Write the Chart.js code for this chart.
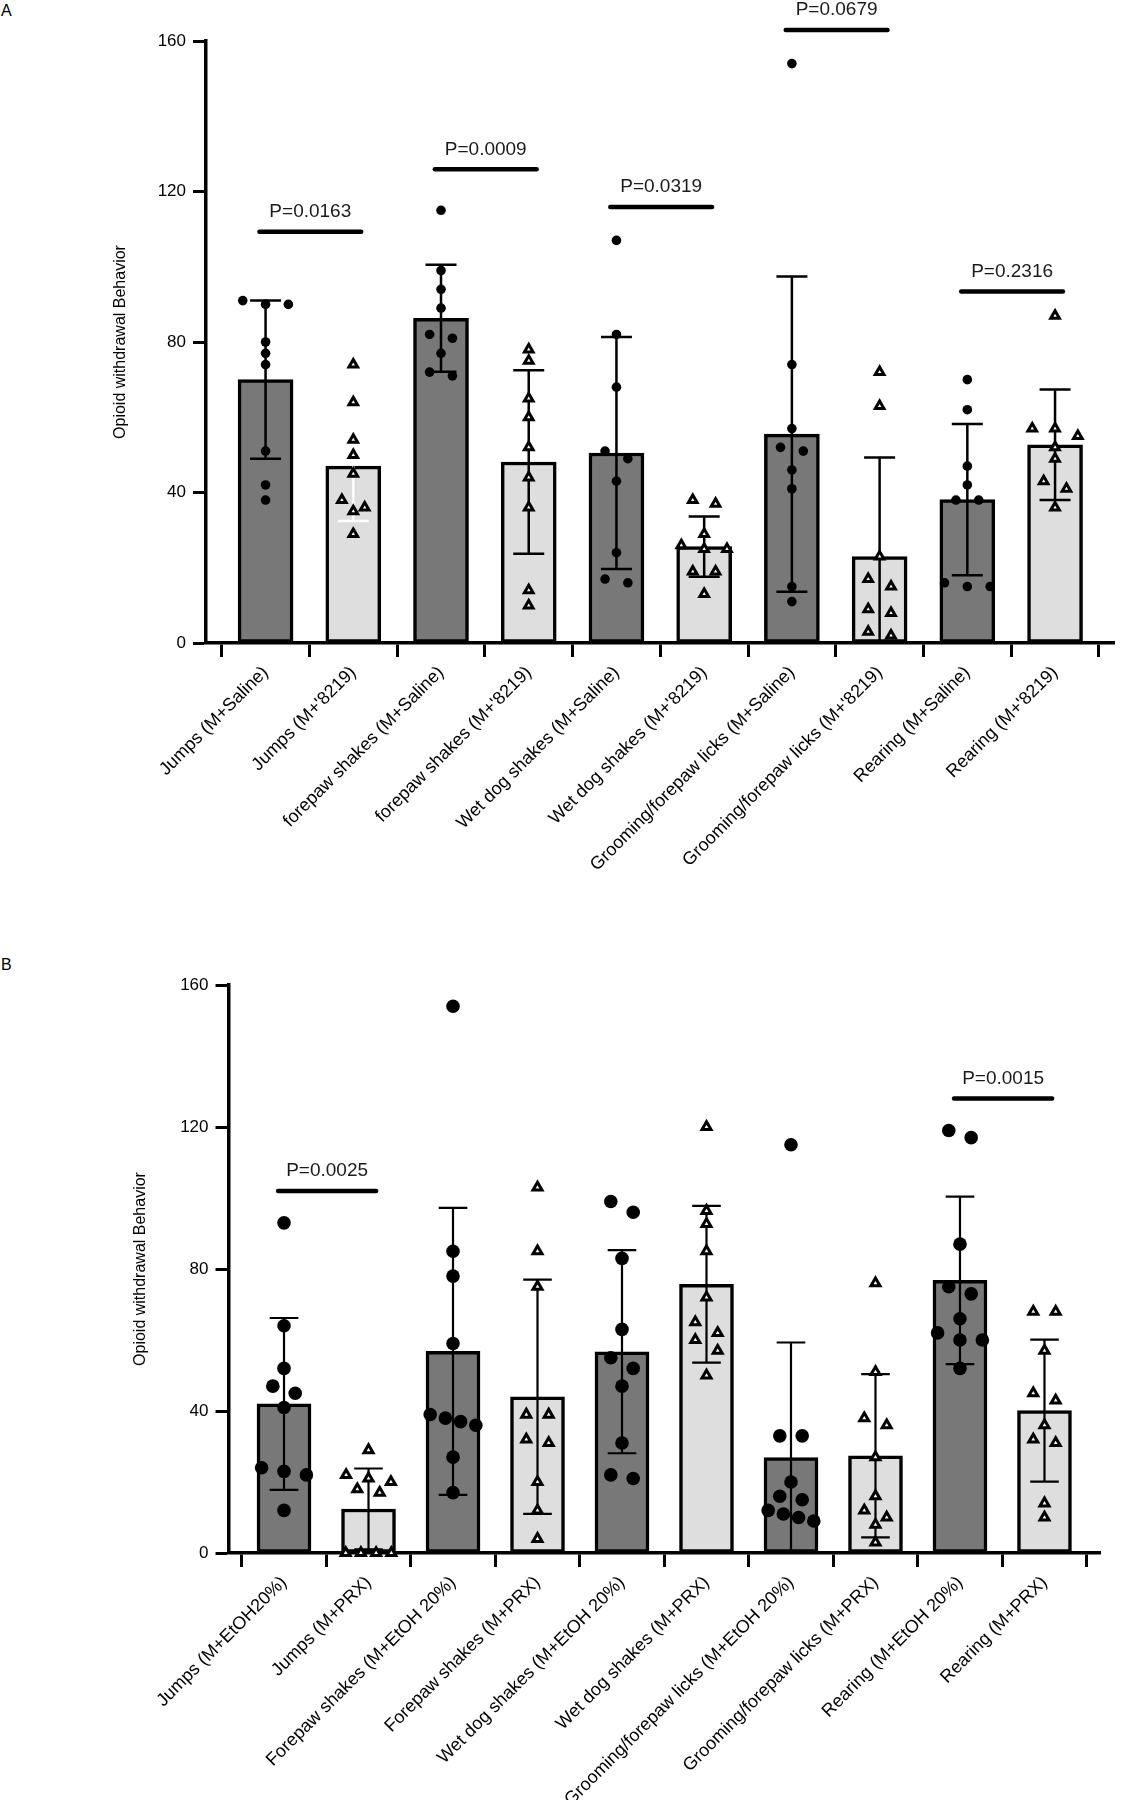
<!DOCTYPE html>
<html><head><meta charset="utf-8">
<script src="https://cdn.jsdelivr.net/npm/chart.js@4/dist/chart.umd.min.js"></script>
<style>
html,body{margin:0;padding:0;background:#fff;}
body{width:1122px;height:1800px;position:relative;overflow:hidden;font-family:"Liberation Sans",Arial,sans-serif;}
.panel{position:absolute;left:0;width:1122px;}
#wrapA{top:0;height:950px;}
#wrapB{top:950px;height:850px;}
.lbl{position:absolute;left:1px;font-size:16px;line-height:18px;color:#000;}
</style></head><body>
<div class="lbl" style="top:2px">A</div>
<div class="lbl" style="top:956px">B</div>
<div class="panel" id="wrapA"><canvas id="cA" width="1122" height="950" style="width:1122px;height:950px"></canvas></div>
<div class="panel" id="wrapB"><canvas id="cB" width="1122" height="850" style="width:1122px;height:850px"></canvas></div>
<script>
// ---------------- Panel A data ----------------
const categoriesA = ["Jumps (M+Saline)", "Jumps (M+'8219)", "forepaw shakes (M+Saline)", "forepaw shakes (M+'8219)",
  "Wet dog shakes (M+Saline)", "Wet dog shakes (M+'8219)", "Grooming/forepaw licks (M+Saline)",
  "Grooming/forepaw licks (M+'8219)", "Rearing (M+Saline)", "Rearing (M+'8219)"];
const meansA = [70, 47, 86.3, 48.1, 50.5, 25.6, 55.5, 23, 38.1, 52.7];
const sdA = [21, 14.6, 14.2, 24.4, 30.8, 8, 41.9, 26.3, 20.1, 14.7];
const pointsA = [
  [90, 91, 90, 80, 77, 74, 51, 42, 38],
  [74, 64, 54, 50, 45, 38, 36, 35, 29],
  [115, 99, 94, 89, 82, 81, 77, 72, 71],
  [78, 75, 65, 60, 52, 44, 36, 14, 10],
  [107, 82, 68, 51, 49, 43, 24, 17, 16],
  [38, 37, 29, 26, 25, 25, 19, 19, 13],
  [154, 74, 57, 52, 51, 46, 41, 15, 11],
  [72, 63, 23, 17, 15, 9, 8, 3, 2],
  [70, 62, 47, 42, 38, 38, 16, 15, 15],
  [87, 57, 57, 55, 52, 49, 43, 41, 36]
];
const sigPairsA = [[0, 1], [2, 3], [4, 5], [6, 7], [8, 9]];
const sigLevelsA = [109.3, 125.9, 115.9, 162.9, 93.4];
const sigTextsA = ["P=0.0163", "P=0.0009", "P=0.0319", "P=0.0679", "P=0.2316"];

// ---------------- Panel B data ----------------
const categoriesB = ["Jumps (M+EtOH20%)", "Jumps (M+PRX)", "Forepaw shakes (M+EtOH 20%)", "Forepaw shakes (M+PRX)",
  "Wet dog shakes (M+EtOH 20%)", "Wet dog shakes (M+PRX)", "Grooming/forepaw licks (M+EtOH 20%)",
  "Grooming/forepaw licks (M+PRX)", "Rearing (M+EtOH 20%)", "Rearing (M+PRX)"];
const meansB = [42, 12.4, 56.8, 44, 56.7, 75.7, 26.9, 27.4, 76.8, 40.1];
const sdB = [24.2, 11.4, 40.4, 33, 28.6, 22.1, 32.4, 23, 23.6, 20];
const pointsB = [
  [93, 64, 52, 47, 45, 41, 24, 23, 22, 12],
  [29, 22, 21, 20, 18, 17, 0, 0, 0, 0],
  [154, 85, 78, 59, 39, 38, 37, 36, 27, 17],
  [103, 85, 75, 39, 39, 32, 31, 20, 12, 4],
  [99, 96, 83, 63, 55, 52, 47, 31, 22, 21],
  [120, 96.4, 92.7, 85, 72, 65, 62, 60, 57, 50],
  [115, 33, 33, 20, 16, 15, 12, 11, 10, 9],
  [76, 51, 38, 36, 27, 16, 12, 10, 8, 3],
  [119, 117, 87, 75, 73, 66, 62, 60, 60, 52],
  [68, 68, 57, 45, 43, 36, 32, 31, 14, 10]
];
const sigPairsB = [[0, 1], [8, 9]];
const sigLevelsB = [102, 128];
const sigTextsB = ["P=0.0025", "P=0.0015"];

const yTicks = [0, 40, 80, 120, 160];

// ---------------- styles ----------------
const FONT = '"Liberation Sans", Arial, sans-serif';
const DARK = '#787878', LIGHT = '#dedede';
const errColorsA = ['#000', '#fff', '#000', '#000', '#000', '#000', '#000', '#000', '#000', '#000'];
const errDirsA = ['both', 'below', 'both', 'both', 'both', 'both', 'both', 'both', 'both', 'both'];
const errColorsB = new Array(10).fill('#000');
const errDirsB = new Array(10).fill('both');

Chart.defaults.font.family = FONT;
Chart.defaults.color = '#000';

// Simple column-scatter spreading: values closer than `thr` share a row and are spread sideways.
function swarm(values, thr, step, maxHalf) {
  const idx = values.map((v, i) => i).sort((a, b) => values[b] - values[a]);
  const offs = new Array(values.length).fill(0);
  let row = [];
  const flush = () => {
    const n = row.length;
    const s = n > 1 ? Math.min(step, 2 * maxHalf / (n - 1)) : 0;
    row.forEach((k, j) => { offs[k] = (j - (n - 1) / 2) * s; });
    row = [];
  };
  for (const k of idx) {
    if (row.length && values[row[0]] - values[k] >= thr) flush();
    row.push(k);
  }
  flush();
  return offs;
}

const annot = {
  id: 'annot',
  afterDatasetDraw(chart, args, o) {
    if (args.index !== 0) return;
    const ctx = chart.ctx, x = chart.scales.x, y = chart.scales.y;
    ctx.save();
    o.means.forEach((m, i) => {
      const sd = o.sds[i], dir = o.dirs[i];
      const cx = x.getPixelForValue(i);
      const hi = m + sd, lo = m - sd;
      const yTop = y.getPixelForValue(dir === 'below' ? m : hi);
      const yBot = y.getPixelForValue(dir === 'above' ? m : Math.max(lo, y.min));
      ctx.strokeStyle = o.colors[i];
      ctx.lineWidth = o.lw;
      ctx.lineCap = 'butt';
      ctx.beginPath();
      ctx.moveTo(cx, yTop); ctx.lineTo(cx, yBot);
      if (dir !== 'below') { const p = y.getPixelForValue(hi); ctx.moveTo(cx - o.cap, p); ctx.lineTo(cx + o.cap, p); }
      if (dir !== 'above' && lo >= y.min) { const p = y.getPixelForValue(lo); ctx.moveTo(cx - o.cap, p); ctx.lineTo(cx + o.cap, p); }
      ctx.stroke();
    });
    ctx.restore();
  },
  afterDraw(chart, args, o) {
    const ctx = chart.ctx, x = chart.scales.x, y = chart.scales.y;
    ctx.save();
    o.pairs.forEach((p, i) => {
      const x1 = x.getPixelForValue(p[0] - 0.07), x2 = x.getPixelForValue(p[1] + 0.09);
      const yy = y.getPixelForValue(o.levels[i]);
      ctx.strokeStyle = '#000'; ctx.lineWidth = 4.5; ctx.lineCap = 'round';
      ctx.beginPath(); ctx.moveTo(x1, yy); ctx.lineTo(x2, yy); ctx.stroke();
      ctx.fillStyle = '#1a1a1a';
      ctx.font = '19px ' + FONT;
      ctx.textAlign = 'center'; ctx.textBaseline = 'middle';
      ctx.fillText(o.texts[i], (x1 + x2) / 2, yy - 20);
    });
    ctx.restore();
  }
};

function build(id, d, g) {
  const barData = d.means.map((m, i) => ({ x: i, y: m }));
  const circ = [], tri = [];
  d.points.forEach((vals, i) => {
    const offs = swarm(vals, g.thr, g.step, g.maxHalf);
    vals.forEach((v, k) => (i % 2 === 0 ? circ : tri).push({ x: i + offs[k], y: v }));
  });
  return new Chart(document.getElementById(id), {
    type: 'bar',
    data: {
      datasets: [
        { type: 'bar', data: barData, order: 2, barThickness: g.barW,
          backgroundColor: d.means.map((m, i) => i % 2 === 0 ? DARK : LIGHT),
          borderColor: '#000', borderWidth: 3.5, borderSkipped: false },
        { type: 'scatter', data: circ, order: 1, clip: false, pointStyle: 'circle', pointRadius: g.circR,
          pointBackgroundColor: '#000', pointBorderWidth: 0 },
        { type: 'scatter', data: tri, order: 0, clip: false, pointStyle: 'triangle', pointRadius: g.triR,
          pointBackgroundColor: '#fff', pointBorderColor: '#000', pointBorderWidth: 3 }
      ]
    },
    options: {
      responsive: false, animation: false, events: [],
      layout: { padding: { left: 0, right: g.padRight, top: g.padTop, bottom: 0 } },
      plugins: {
        legend: { display: false }, tooltip: { enabled: false },
        annot: { means: d.means, sds: d.sds, colors: d.errColors, dirs: d.errDirs, lw: g.errLw, cap: g.cap,
          pairs: d.sigPairs, levels: d.sigLevels, texts: d.sigTexts }
      },
      scales: {
        x: {
          type: 'linear', min: g.xmin, max: g.xmax, offset: false,
          afterBuildTicks: s => { s.ticks = d.cats.map((c, i) => ({ value: i })); },
          afterFit: s => { s.height = g.xAxisH; },
          ticks: { autoSkip: false, minRotation: 45, maxRotation: 45, padding: g.xPad,
            font: { size: 18 }, color: '#000', callback: v => d.cats[v] !== undefined ? d.cats[v] : '' },
          grid: { drawOnChartArea: false, drawTicks: true, tickLength: 14, tickWidth: 3, tickColor: '#000' },
          border: { display: true, width: 3.5, color: '#000' }
        },
        y: {
          min: 0, max: 160,
          afterBuildTicks: s => { s.ticks = yTicks.map(v => ({ value: v })); },
          afterFit: s => { s.width = g.yAxisW; },
          ticks: { padding: 7, font: { size: 17 }, color: '#000' },
          title: { display: true, text: 'Opioid withdrawal Behavior', font: { size: 16 }, color: '#000',
            padding: { top: g.titlePad, bottom: 0 } },
          grid: { drawOnChartArea: false, drawTicks: true, tickLength: 13, tickWidth: 3, tickColor: '#000' },
          border: { display: true, width: 3.5, color: '#000' }
        }
      }
    },
    plugins: [annot]
  });
}

build('cA', { cats: categoriesA, means: meansA, sds: sdA, points: pointsA, errColors: errColorsA, errDirs: errDirsA,
  sigPairs: sigPairsA, sigLevels: sigLevelsA, sigTexts: sigTextsA },
  { xmin: -0.679, xmax: 9.672, padRight: 1, padTop: 41, yAxisW: 206, xAxisH: 307, titlePad: 111, xPad: 5,
    barW: 55, circR: 4.8, triR: 5, errLw: 2.5, cap: 15.5, thr: 2.6, step: 0.26, maxHalf: 0.26 });

build('cB', { cats: categoriesB, means: meansB, sds: sdB, points: pointsB, errColors: errColorsB, errDirs: errDirsB,
  sigPairs: sigPairsB, sigLevels: sigLevelsB, sigTexts: sigTextsB },
  { xmin: -0.657, xmax: 9.663, padRight: 21.5, padTop: 35, yAxisW: 228.5, xAxisH: 247, titlePad: 131, xPad: 5,
    barW: 54, circR: 6.8, triR: 5.2, errLw: 2.2, cap: 14.3, thr: 3.5, step: 0.265, maxHalf: 0.27 });
</script>
</body></html>
